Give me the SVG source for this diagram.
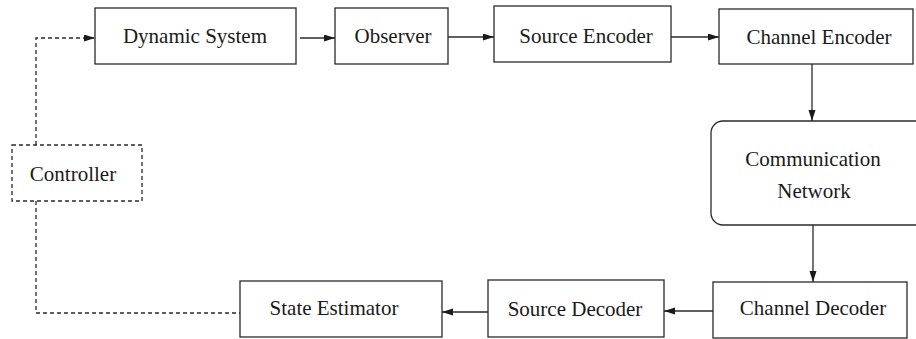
<svg xmlns="http://www.w3.org/2000/svg" width="916" height="339" viewBox="0 0 916 339">
<defs>
<marker id="ah" markerUnits="userSpaceOnUse" markerWidth="12" markerHeight="8" refX="11" refY="3.5" orient="auto">
<path d="M0,0 L11,3.5 L0,7 z" fill="#1a1a1a"/>
</marker>
<style>
.box{fill:#fff;stroke:#2a2a2a;stroke-width:1.3}
.dbox{fill:#fff;stroke:#2a2a2a;stroke-width:1.3;stroke-dasharray:4 3}
.t{font-family:"Liberation Serif","Times New Roman",serif;font-size:21px;fill:#1a1a1a;text-anchor:middle}
.ln{fill:none;stroke:#2a2a2a;stroke-width:1.3}
.dl{fill:none;stroke:#2a2a2a;stroke-width:1.3;stroke-dasharray:4 3}
.ar{marker-end:url(#ah)}
</style>
</defs>
<rect width="916" height="339" fill="#fff"/>
<g id="connectors">
<path class="dl ar" d="M36,145 L36,38 L95,38"/>
<path class="ln ar" d="M300,38 L335,38"/>
<path class="ln ar" d="M448,37 L494,37"/>
<path class="ln ar" d="M671,37 L719,37"/>
<path class="ln ar" d="M812,64 L812,121"/>
<path class="ln ar" d="M813,225 L813,282"/>
<path class="ln ar" d="M713,311 L664,311"/>
<path class="ln ar" d="M488,312 L442,312"/>
<path class="dl" d="M36,201 L36,313 L240,313"/>
</g>
<g id="dynamic-system">
<rect class="box" x="95" y="8" width="201" height="56"/>
<text class="t" x="195" y="43">Dynamic System</text>
</g>
<g id="observer">
<rect class="box" x="335" y="8" width="113" height="56"/>
<text class="t" x="393" y="43">Observer</text>
</g>
<g id="source-encoder">
<rect class="box" x="494" y="6" width="177" height="56"/>
<text class="t" x="586" y="43">Source Encoder</text>
</g>
<g id="channel-encoder">
<rect class="box" x="719" y="9" width="194" height="55"/>
<text class="t" x="819" y="44">Channel Encoder</text>
</g>
<g id="communication-network">
<rect class="box" x="711" y="121" width="240" height="104" rx="12" ry="12"/>
<text class="t" x="813" y="166">Communication</text>
<text class="t" x="814" y="198">Network</text>
</g>
<g id="channel-decoder">
<rect class="box" x="713" y="282" width="194" height="56"/>
<text class="t" x="813" y="315">Channel Decoder</text>
</g>
<g id="source-decoder">
<rect class="box" x="488" y="280" width="176" height="57"/>
<text class="t" x="575" y="316">Source Decoder</text>
</g>
<g id="state-estimator">
<rect class="box" x="240" y="281" width="202" height="56"/>
<text class="t" x="334" y="315">State Estimator</text>
</g>
<g id="controller">
<rect class="dbox" x="12" y="145" width="130" height="56"/>
<text class="t" x="73" y="181">Controller</text>
</g>
</svg>
